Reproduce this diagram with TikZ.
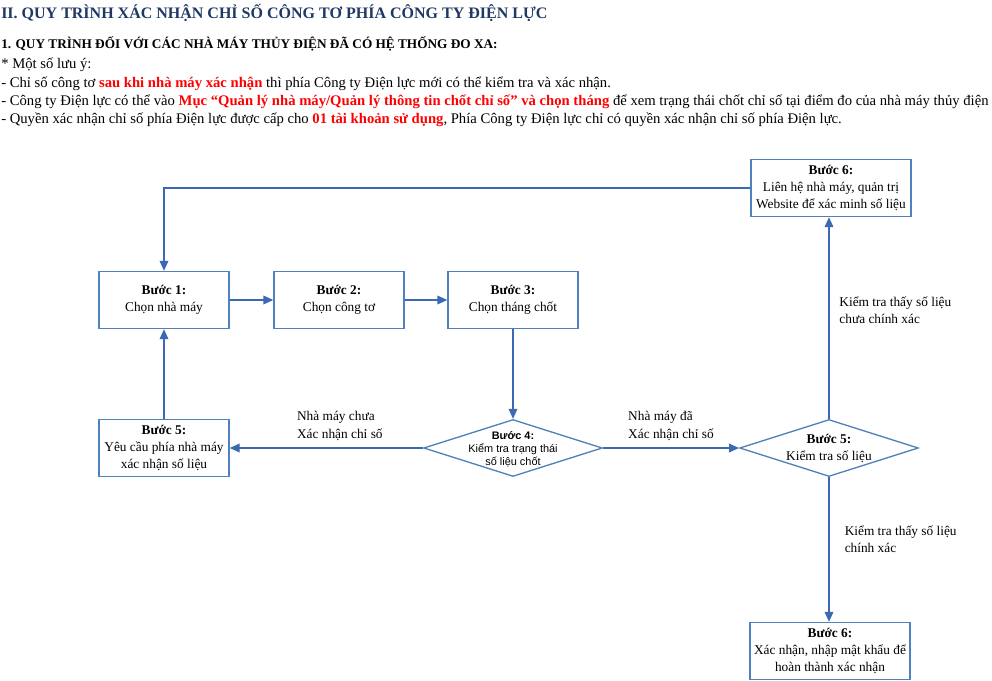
\documentclass[tikz,border=0pt]{standalone}
\usepackage{fontspec}
\setmainfont{Liberation Serif}
\newfontfamily\arialf{Liberation Sans}
\usepackage{tikz}
\usetikzlibrary{arrows.meta, shapes.geometric}
\definecolor{navy}{RGB}{31,56,100}
\definecolor{edge}{RGB}{79,129,189}
\definecolor{wire}{RGB}{60,105,180}
\definecolor{hot}{RGB}{255,0,0}
\tikzset{
  box/.style    = {draw=edge, line width=1pt, align=center, fill=white,
                   minimum height=42.75pt, minimum width=97.5pt, inner sep=2pt,
                   font=\fontsize{10}{12.75}\selectfont},
  widebox/.style= {box, minimum width=120pt},
  dia/.style    = {draw=edge, line width=1pt, diamond, inner sep=0pt,
                   minimum width=134pt, minimum height=42.75pt},
  diatxt/.style = {align=center, font=\arialf\fontsize{8.2}{9.8}\selectfont},
  sig/.style    = {-{Triangle[length=7.5pt, width=6.5pt]}, line width=1pt, draw=wire},
  lab/.style    = {font=\fontsize{10}{13}\selectfont, align=left},
  txt/.style    = {anchor=west, inner sep=0pt, font=\fontsize{11}{12}\selectfont},
}

\begin{document}
\begin{tikzpicture}[x=0.75pt, y=-0.75pt]
  \useasboundingbox (0,0) rectangle (992,681);

  % header text
  \node[txt, font=\bfseries\fontsize{12}{14}\selectfont, text=navy] (title) at (1,13)
    {II. QUY TRÌNH XÁC NHẬN CHỈ SỐ CÔNG TƠ PHÍA CÔNG TY ĐIỆN LỰC};
  \node[txt, font=\bfseries\fontsize{9.95}{11}\selectfont] (sub) at (1,44)
    {1. QUY TRÌNH ĐỐI VỚI CÁC NHÀ MÁY THỦY ĐIỆN ĐÃ CÓ HỆ THỐNG ĐO XA:};
  \node[txt] (note0) at (1,65) {* Một số lưu ý:};
  \node[txt] (note1) at (1,84) {- Chỉ số công tơ \textcolor{hot}{\textbf{sau khi nhà máy xác nhận}} thì phía Công ty Điện lực mới có thể kiểm tra và xác nhận.};
  \node[txt] (note2) at (1,102) {- Công ty Điện lực có thể vào \textcolor{hot}{\textbf{Mục “Quản lý nhà máy/Quản lý thông tin chốt chỉ số” và chọn tháng}} để xem trạng thái chốt chỉ số tại điểm đo của nhà máy thủy điện};
  \node[txt] (note3) at (1,120) {- Quyền xác nhận chỉ số phía Điện lực được cấp cho \textcolor{hot}{\textbf{01 tài khoản sử dụng}}, Phía Công ty Điện lực chỉ có quyền xác nhận chỉ số phía Điện lực.};

  % steps
  \node[box] (b1) at (164,300) {\textbf{Bước 1:}\\Chọn nhà máy};
  \node[box] (b2) at (339,300) {\textbf{Bước 2:}\\Chọn công tơ};
  \node[box] (b3) at (513,300) {\textbf{Bước 3:}\\Chọn tháng chốt};
  \node[box] (b5) at (164,448) {\textbf{Bước 5:}\\Yêu cầu phía nhà máy\\xác nhận số liệu};
  \node[dia] (d4) at (513,448) {};
  \node[diatxt] (d4t) at (513,449) {\textbf{Bước 4:}\\Kiểm tra trạng thái\\số liệu chốt};
  \node[dia] (d5) at (829,448) {};
  \node[box, draw=none, fill=none] (d5t) at (829,448) {\textbf{Bước 5:}\\Kiểm tra số liệu};
  \node[widebox] (b6a) at (831,188) {\textbf{Bước 6:}\\Liên hệ nhà máy, quản trị\\Website để xác minh số liệu};
  \node[widebox] (b6b) at (830,651) {\textbf{Bước 6:}\\Xác nhận, nhập mật khẩu để\\hoàn thành xác nhận};

  % connectors
  \draw[sig] (b1) -- (b2);
  \draw[sig] (b2) -- (b3);
  \draw[sig] (b3) -- (d4);
  \draw[sig] (d4.west) -- node[lab, above, pos=0.43, yshift=2pt] {Nhà máy chưa\\Xác nhận chỉ số} (b5);
  \draw[sig] (d4.east) -- node[lab, above, midway, yshift=2pt] {Nhà máy đã\\Xác nhận chỉ số} (d5.west);
  \draw[sig] (b5) -- (b1);
  \draw[sig] (d5.north) -- node[lab, right, pos=0.54, xshift=4pt] {Kiểm tra thấy số liệu\\chưa chính xác} (d5.north |- b6a.south);
  \draw[sig] (d5.south) -- node[lab, right, pos=0.43, xshift=8pt] {Kiểm tra thấy số liệu\\chính xác} (d5.south |- b6b.north);
  \draw[sig] (b6a.west) -| (b1.north);
\end{tikzpicture}
\end{document}
